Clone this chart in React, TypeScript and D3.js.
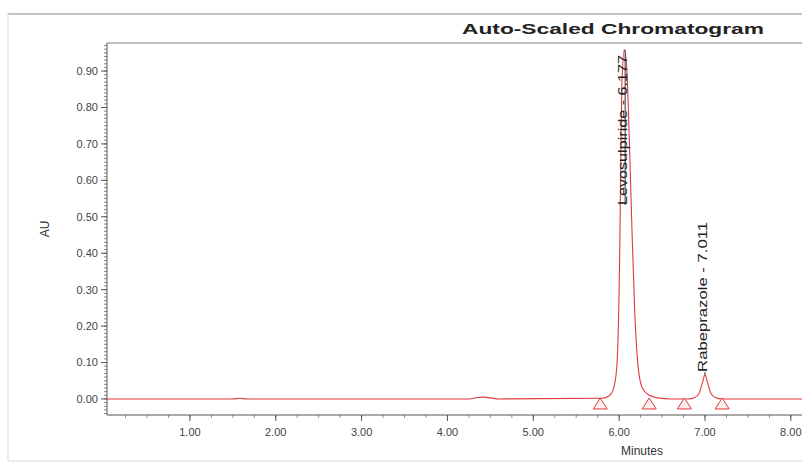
import React, { useEffect, useRef } from "react";
import * as d3 from "d3";

// trace (minutes, AU)
const traceMinutes = [0.03, 1.5, 1.58, 1.66, 4.25, 4.35, 4.42, 4.5, 4.6, 5.8, 5.88, 5.93, 5.97, 6.0, 6.01, 6.03, 6.06, 6.09, 6.12, 6.15, 6.18, 6.22, 6.27, 6.35, 6.45, 6.6, 6.8, 6.88, 6.93, 6.97, 7.0, 7.03, 7.07, 7.12, 7.2, 8.3];
const traceAU = [0.0, 0.0, 0.002, 0.0, 0.0, 0.004, 0.005, 0.003, 0.0, 0.002, 0.008, 0.025, 0.08, 0.3, 0.46, 0.85, 0.958, 0.9, 0.7, 0.46, 0.25, 0.09, 0.03, 0.01, 0.003, 0.0, 0.0, 0.004, 0.015, 0.045, 0.066, 0.045, 0.015, 0.004, 0.0, 0.0];

const peakNames = ["Levosulpiride", "Rabeprazole"];
const peakRT = ["6.177", "7.011"];
const peakApexMinutes = [6.07, 7.0];
const peakApexAU = [0.958, 0.066];

const baselineMarks = [5.78, 6.35, 6.76, 7.2];

const xTicks = [1, 2, 3, 4, 5, 6, 7, 8];
const yTicks = [0, 0.1, 0.2, 0.3, 0.4, 0.5, 0.6, 0.7, 0.8, 0.9];

const W = 802;
const H = 464;

const App = () => {
  const ref = useRef<SVGSVGElement>(null);

  useEffect(() => {
    const svg = d3.select(ref.current);
    svg.selectAll("*").remove();

    const left = 107, top = 43, bottom = 415, right = 808;
    const font = "'Liberation Sans', Arial, sans-serif";

    const x = d3.scaleLinear().domain([0.034, 8.2]).range([left, right]);
    const y = d3.scaleLinear().domain([-0.044, 0.977]).range([bottom, top]);

    // frame + title bar
    svg.append("rect").attr("x", 8).attr("y", 14).attr("width", W).attr("height", 447)
      .attr("fill", "#fff").attr("stroke", "#d8d8d8");
    svg.append("line").attr("x1", 8).attr("x2", W).attr("y1", 14).attr("y2", 14)
      .attr("stroke", "#b8b8b8").attr("stroke-width", 1.5);
    svg.append("line").attr("x1", left).attr("x2", W).attr("y1", top).attr("y2", top)
      .attr("stroke", "#a8a8a8").attr("stroke-width", 1.5);

    svg.append("text").attr("x", 613).attr("y", 34).attr("text-anchor", "middle")
      .attr("font-family", font).attr("font-weight", "bold").attr("font-size", 15)
      .attr("textLength", 302).attr("lengthAdjust", "spacingAndGlyphs")
      .attr("fill", "#222").text("Auto-Scaled Chromatogram");

    svg.append("defs").append("clipPath").attr("id", "plot")
      .append("rect").attr("x", left).attr("y", top).attr("width", right - left).attr("height", bottom - top);

    // axes
    const yMinor = d3.range(-4, 98).map((i) => i / 100);
    svg.append("g").selectAll("line").data(yMinor).join("line")
      .attr("x1", left - 3).attr("x2", left).attr("y1", (d) => y(d)).attr("y2", (d) => y(d))
      .attr("stroke", "#666").attr("stroke-width", 0.8);
    svg.append("g").selectAll("line").data(yTicks).join("line")
      .attr("x1", left - 6).attr("x2", left).attr("y1", (d) => y(d)).attr("y2", (d) => y(d))
      .attr("stroke", "#555");
    svg.append("g").selectAll("text").data(yTicks).join("text")
      .attr("x", left - 9).attr("y", (d) => y(d)).attr("dy", "0.35em").attr("text-anchor", "end")
      .attr("font-family", font).attr("font-size", 11).attr("fill", "#444")
      .text((d) => d.toFixed(2));

    const xMinor = d3.range(1, 33).map((i) => i / 4);
    svg.append("g").selectAll("line").data(xMinor).join("line")
      .attr("x1", (d) => x(d)).attr("x2", (d) => x(d)).attr("y1", bottom).attr("y2", bottom + 3)
      .attr("stroke", "#777").attr("stroke-width", 0.8);
    svg.append("g").selectAll("line").data(xTicks).join("line")
      .attr("x1", (d) => x(d)).attr("x2", (d) => x(d)).attr("y1", bottom).attr("y2", bottom + 6)
      .attr("stroke", "#555");
    svg.append("g").selectAll("text").data(xTicks).join("text")
      .attr("x", (d) => x(d)).attr("y", bottom + 21).attr("text-anchor", "middle")
      .attr("font-family", font).attr("font-size", 11).attr("fill", "#444")
      .text((d) => d.toFixed(2));

    svg.append("line").attr("x1", left).attr("x2", left).attr("y1", top).attr("y2", bottom)
      .attr("stroke", "#555");
    svg.append("line").attr("x1", left).attr("x2", W).attr("y1", bottom).attr("y2", bottom)
      .attr("stroke", "#555");

    svg.append("text").attr("x", 642).attr("y", 455).attr("text-anchor", "middle")
      .attr("font-family", font).attr("font-size", 12).attr("fill", "#333").text("Minutes");
    svg.append("text").attr("transform", `translate(49,${(top + bottom) / 2}) rotate(-90)`)
      .attr("text-anchor", "middle").attr("font-family", font).attr("font-size", 12)
      .attr("fill", "#333").text("AU");

    // trace
    const pts = traceMinutes.map((t, i) => [t, traceAU[i]] as [number, number]);
    const plot = svg.append("g").attr("clip-path", "url(#plot)");
    plot.append("path").datum(pts)
      .attr("fill", "none").attr("stroke", "#e0393e").attr("stroke-width", 1.1)
      .attr("d", d3.line<[number, number]>().x((d) => x(d[0])).y((d) => y(d[1])).curve(d3.curveMonotoneX));

    // baseline markers
    const y0 = y(0);
    svg.append("g").selectAll("path").data(baselineMarks).join("path")
      .attr("d", (d) => {
        const cx = x(d);
        return `M${cx},${y0 - 1}L${cx + 7},${y0 + 10}L${cx - 7},${y0 + 10}Z`;
      })
      .attr("fill", "#fdeeee").attr("stroke", "#e0393e").attr("stroke-width", 1);

    // peak labels
    const labelLen = 150;
    peakNames.forEach((name, i) => {
      const px = x(peakApexMinutes[i]);
      const py = y(peakApexAU[i]);
      const yb = Math.max(py - 3, top + labelLen + 12);
      svg.append("line").attr("x1", px).attr("x2", px).attr("y1", py).attr("y2", yb)
        .attr("stroke", "#333").attr("stroke-width", 1);
      svg.append("text").attr("transform", `translate(${px + 2},${yb}) rotate(-90)`)
        .attr("font-family", font).attr("font-size", 13).attr("fill", "#222")
        .attr("textLength", labelLen).attr("lengthAdjust", "spacingAndGlyphs")
        .text(`${name} - ${peakRT[i]}`);
    });
  }, []);

  return (
    <svg ref={ref} width={W} height={H}
      style={{ position: "absolute", left: 0, top: 0, background: "#fff" }} />
  );
};

export default App;
